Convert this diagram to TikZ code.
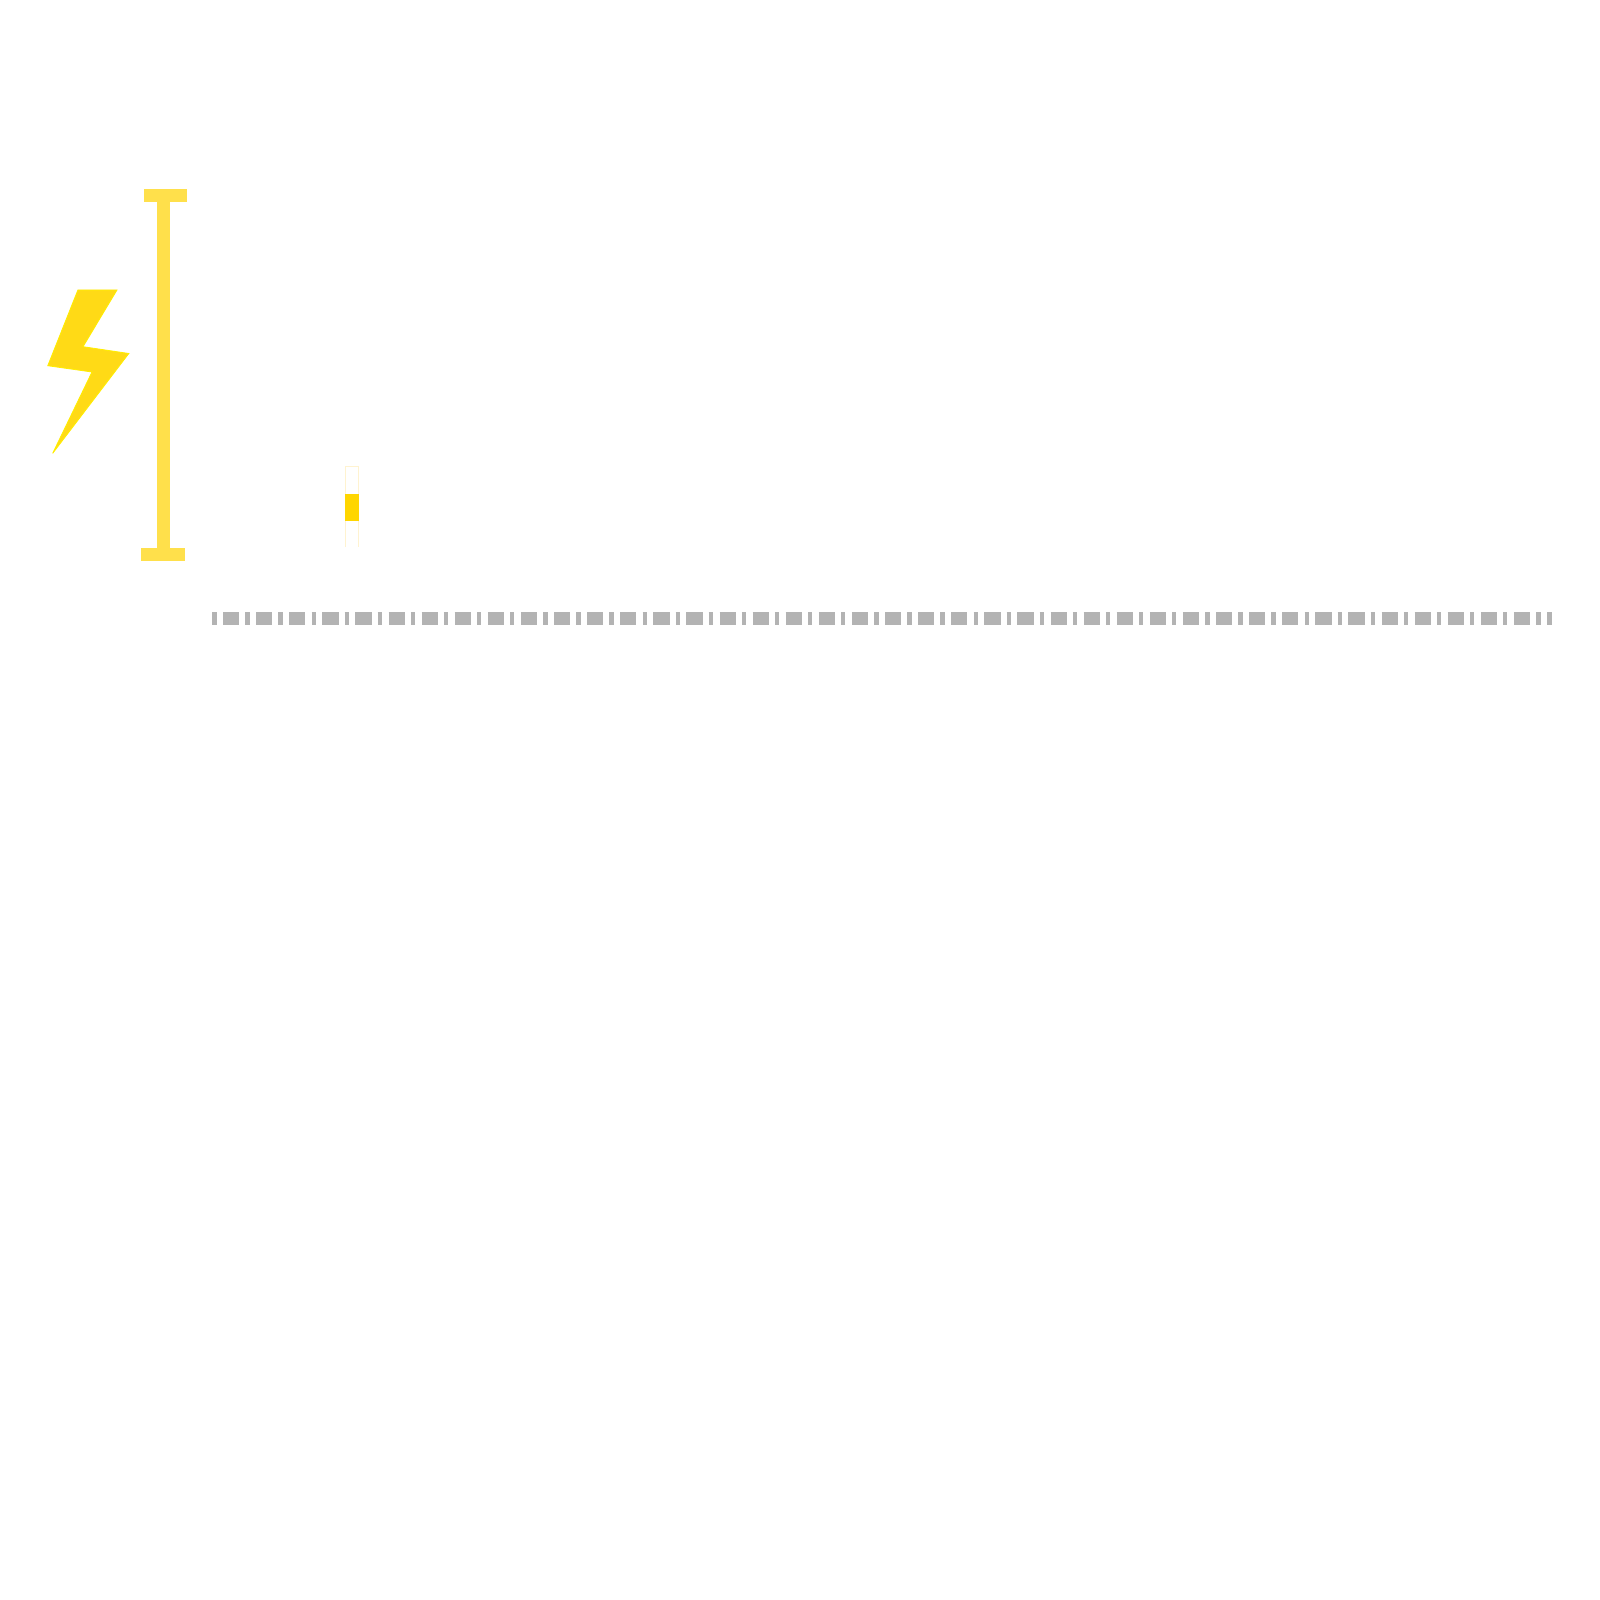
\documentclass[tikz,border=0pt]{standalone}
\definecolor{barY}{HTML}{FFE04B}
\definecolor{boltF}{HTML}{FFDA16}
\definecolor{boltE}{HTML}{FFEE00}
\definecolor{gaugeY}{HTML}{FFD600}
\definecolor{gaugeE}{HTML}{FFF3D0}
\definecolor{dashG}{HTML}{B3B3B3}
\tikzset{
  px/.style={x=0.6pt,y=-0.6pt},
  barpart/.style={fill=barY,draw=none},
  boltshape/.style={fill=boltF,draw=boltE,line width=0.5pt,line join=miter,miter limit=3},
  gaugeframe/.style={draw=gaugeE,line width=0.5pt,fill=none},
  gaugefill/.style={fill=gaugeY,draw=none},
  dashline/.style={draw=dashG,line width=8.16pt,dash pattern=on 2.58pt off 3.9pt on 9.72pt off 3.66pt}
}
\begin{document}
\begin{tikzpicture}[px]
\useasboundingbox (0,0) rectangle (1600,1600);
\fill[white] (0,0) rectangle (1600,1600);
% I-beam
\path[barpart] (143.7,189) rectangle (186.7,202);
\path[barpart] (156.7,202) rectangle (170,548);
\path[barpart] (141.4,548) rectangle (184.8,561);
% bolt
\draw[boltshape] (77.9,290) -- (117,290) -- (83,346.7) -- (128.8,353.5) -- (52.7,453.3) -- (92,372) -- (47.8,365.7) -- cycle;
% gauge
\draw[gaugeframe] (345.7,547) -- (345.7,466.7) -- (358.7,466.7) -- (358.7,547);
\path[gaugefill] (345.4,493.6) rectangle (359,520.6);
% dashed rule
\coordinate (ruleA) at (212.2,618.5);
\coordinate (ruleB) at (1552,618.5);
\draw[dashline] (ruleA) -- (ruleB);
\end{tikzpicture}
\end{document}
